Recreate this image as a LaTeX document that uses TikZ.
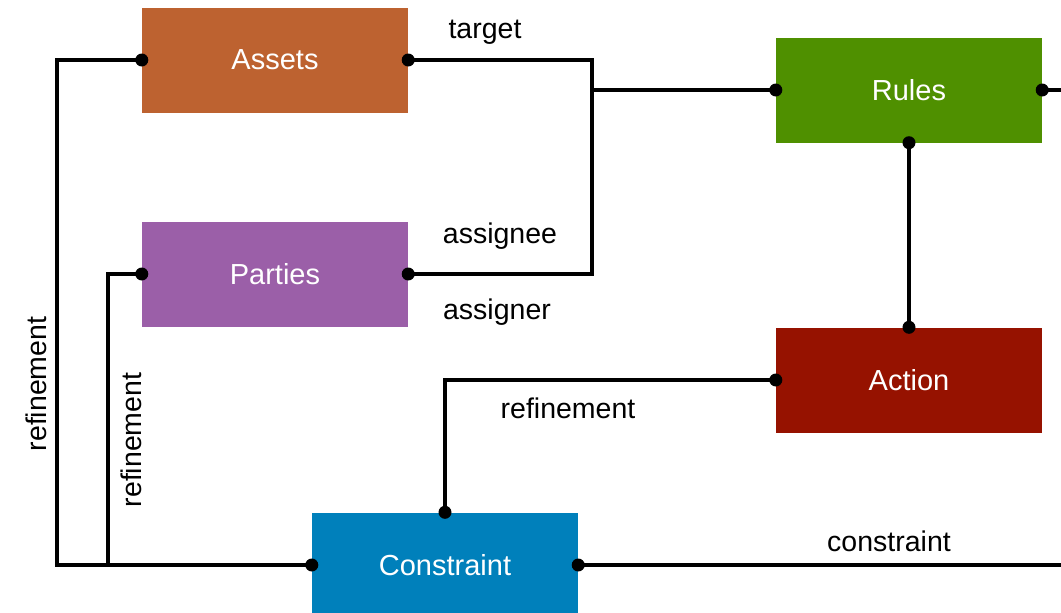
\documentclass[tikz,border=0pt]{standalone}
\usepackage{fontspec}
\setmainfont{Liberation Sans}
\begin{document}
\begin{tikzpicture}[x=1pt,y=-1pt,
  entity/.style={draw=none, minimum width=266pt, minimum height=105pt, inner sep=0pt,
    text=white, font=\fontsize{29}{34}\selectfont},
  wire/.style={line width=3.6pt, line join=miter},
  lbl/.style={font=\fontsize{28.5}{33}\selectfont, inner sep=0pt},
  jdot/.style={fill=black}
]
\definecolor{assetc}{HTML}{BD6230}
\definecolor{partyc}{HTML}{9B5FA8}
\definecolor{rulec}{HTML}{4F9000}
\definecolor{actionc}{HTML}{961200}
\definecolor{constrc}{HTML}{0080BB}
\useasboundingbox (0,0) rectangle (1061,613);

% entities
\node[entity, fill=assetc]  (assets) at (275,60)  {Assets};
\node[entity, fill=partyc]  (parties) at (275,274) {Parties};
\node[entity, fill=rulec]   (rules) at (909,90)   {Rules};
\node[entity, fill=actionc] (action) at (909,380) {Action};
\node[entity, fill=constrc] (constr) at (445,565) {Constraint};

% junctions and free ends
\coordinate (jtop) at (592,60);
\coordinate (jbot) at (592,274);
\coordinate (jmid) at (jtop |- rules.west);
\coordinate (edge) at (1061,0);
\coordinate (rend) at (edge |- rules.east);
\coordinate (cend) at (edge |- constr.east);
\coordinate (outer) at (57,565);
\coordinate (inner) at (108,565);

% connectors
\draw[wire] (assets.east) -- (jtop) -- (jbot) -- (parties.east);
\draw[wire] (jmid) -- (rules.west);
\draw[wire] (rules.east) -- (rend);
\draw[wire] (rules.south) -- (action.north);
\draw[wire] (action.west) -| (constr.north);
\draw[wire] (constr.east) -- (cend);
\draw[wire] (constr.west) -- (outer) |- (assets.west);
\draw[wire] (inner) |- (parties.west);

% connection dots
\foreach \p in {assets.east, assets.west, parties.east, parties.west,
                rules.west, rules.east, rules.south, action.north, action.west,
                constr.north, constr.west, constr.east}
  \fill[jdot] (\p) circle (6.5pt);

% labels
\node[lbl] (ltarget) at (485,32) {target};
\node[lbl] (lassignee) at (500,236) {assignee};
\node[lbl] (lassigner) at (497,312) {assigner};
\node[lbl, rotate=90] (lref1) at (36,384) {refinement};
\node[lbl, rotate=90] (lref2) at (131,440) {refinement};
\node[lbl] (lref3) at (568,408) {refinement};
\node[lbl] (lconstr) at (889,541) {constraint};
\end{tikzpicture}
\end{document}
